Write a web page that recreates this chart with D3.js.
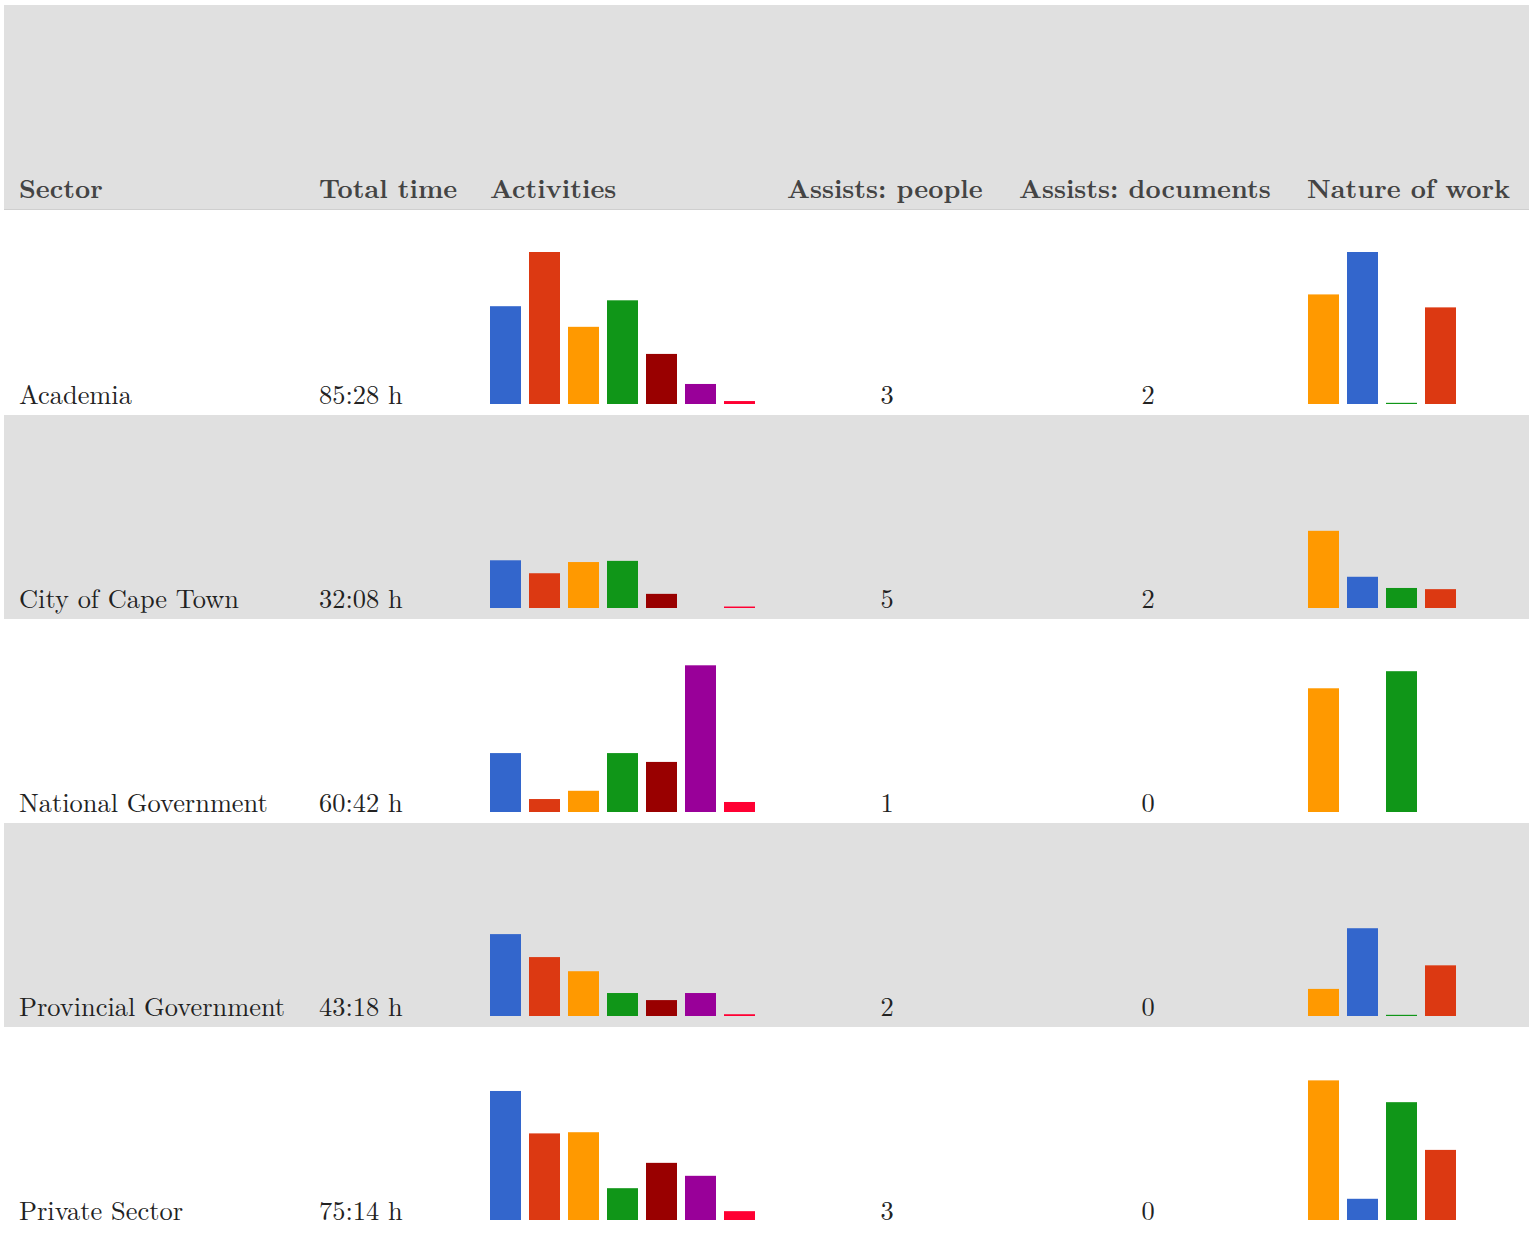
<!DOCTYPE html>
<html lang="en">
<head>
  <meta charset="UTF-8">
  <title>Time by sector</title>
  <script src="https://d3js.org/d3.v7.min.js"></script>
  <style>
    body { margin: 0; background: #fff; }
    text { font-family: "Latin Modern Roman", "CMU Serif", "Liberation Serif", serif; }
    .hdr { font-weight: bold; fill: #444; font-size: 26.4px; }
    .cell { fill: #222; font-size: 26.4px; }
  </style>
</head>
<body>
  <svg id="chart" width="1536" height="1234"></svg>
  <script>
    // table data (hours)
    const sectors = ["Academia", "City of Cape Town", "National Government", "Provincial Government", "Private Sector"];
    const totalTimes = ["85:28 h", "32:08 h", "60:42 h", "43:18 h", "75:14 h"];
    const assistsPeople = [3, 5, 1, 2, 3];
    const assistsDocs = [2, 2, 0, 0, 0];

    const activityColors = ["#3366cc", "#dc3912", "#ff9900", "#109618", "#990000", "#990099", "#ff0033"];
    const activityHours = [
      [16.6, 25.8, 13.1, 17.6, 8.5, 3.4, 0.5],
      [8.1, 5.9, 7.8, 8.0, 2.4, 0, 0.25],
      [10.0, 2.2, 3.6, 10.0, 8.5, 24.9, 1.7],
      [13.9, 10.0, 7.6, 3.9, 2.7, 3.9, 0.3],
      [21.9, 14.7, 14.9, 5.4, 9.7, 7.5, 1.5]
    ];

    const natureColors = ["#ff9900", "#3366cc", "#109618", "#dc3912"];
    const natureHours = [
      [18.6, 25.8, 0.2, 16.4],
      [13.1, 5.3, 3.4, 3.2],
      [21.0, 0, 23.9, 0],
      [4.6, 14.9, 0.2, 8.6],
      [23.7, 3.6, 20.0, 11.9]
    ];

    const headers = ["Sector", "Total time", "Activities", "Assists: people", "Assists: documents", "Nature of work"];
    const headerX = [19, 319, 490, 787, 1019, 1307];

    const svg = d3.select("#chart");
    const left = 4, right = 1529;
    const headTop = 5, headBottom = 209;
    const rowTop = 211, rowH = 204;

    // header
    svg.append("rect")
      .attr("x", left).attr("y", headTop)
      .attr("width", right - left).attr("height", headBottom - headTop)
      .attr("fill", "#e0e0e0");
    svg.append("line")
      .attr("x1", left).attr("x2", right)
      .attr("y1", headBottom + 0.5).attr("y2", headBottom + 0.5)
      .attr("stroke", "#cfcfcf");
    svg.selectAll(".hdr").data(headers).enter().append("text")
      .attr("class", "hdr")
      .attr("x", (d, i) => headerX[i]).attr("y", 198)
      .text(d => d);

    // scales
    const maxVal = d3.max(activityHours.concat(natureHours).flat());
    const y = d3.scaleLinear().domain([0, maxVal]).range([0, 152]);
    const xAct = d3.scaleBand().domain(d3.range(7)).range([490, 755]).paddingInner(8 / 39).paddingOuter(0);
    const xNat = d3.scaleBand().domain(d3.range(4)).range([1308, 1456]).paddingInner(8 / 39).paddingOuter(0);

    const rows = svg.selectAll(".row").data(sectors).enter().append("g")
      .attr("class", "row")
      .attr("transform", (d, i) => `translate(0,${rowTop + i * rowH})`);

    rows.append("rect")
      .attr("x", left).attr("y", 0)
      .attr("width", right - left).attr("height", rowH)
      .attr("fill", (d, i) => i % 2 ? "#e0e0e0" : "#fff");

    const base = 193; // bar baseline inside a row
    const textY = 193;

    rows.append("text").attr("class", "cell").attr("x", 19).attr("y", textY).text(d => d);
    rows.append("text").attr("class", "cell").attr("x", 319).attr("y", textY).text((d, i) => totalTimes[i]);
    rows.append("text").attr("class", "cell").attr("x", 887).attr("y", textY)
      .attr("text-anchor", "middle").text((d, i) => assistsPeople[i]);
    rows.append("text").attr("class", "cell").attr("x", 1148).attr("y", textY)
      .attr("text-anchor", "middle").text((d, i) => assistsDocs[i]);

    rows.each(function (d, i) {
      const g = d3.select(this);
      g.selectAll(".act").data(activityHours[i]).enter().append("rect")
        .attr("class", "act")
        .attr("x", (v, j) => xAct(j))
        .attr("width", xAct.bandwidth())
        .attr("y", v => base - y(v))
        .attr("height", v => y(v))
        .attr("fill", (v, j) => activityColors[j]);
      g.selectAll(".nat").data(natureHours[i]).enter().append("rect")
        .attr("class", "nat")
        .attr("x", (v, j) => xNat(j))
        .attr("width", xNat.bandwidth())
        .attr("y", v => base - y(v))
        .attr("height", v => y(v))
        .attr("fill", (v, j) => natureColors[j]);
    });
  </script>
</body>
</html>
